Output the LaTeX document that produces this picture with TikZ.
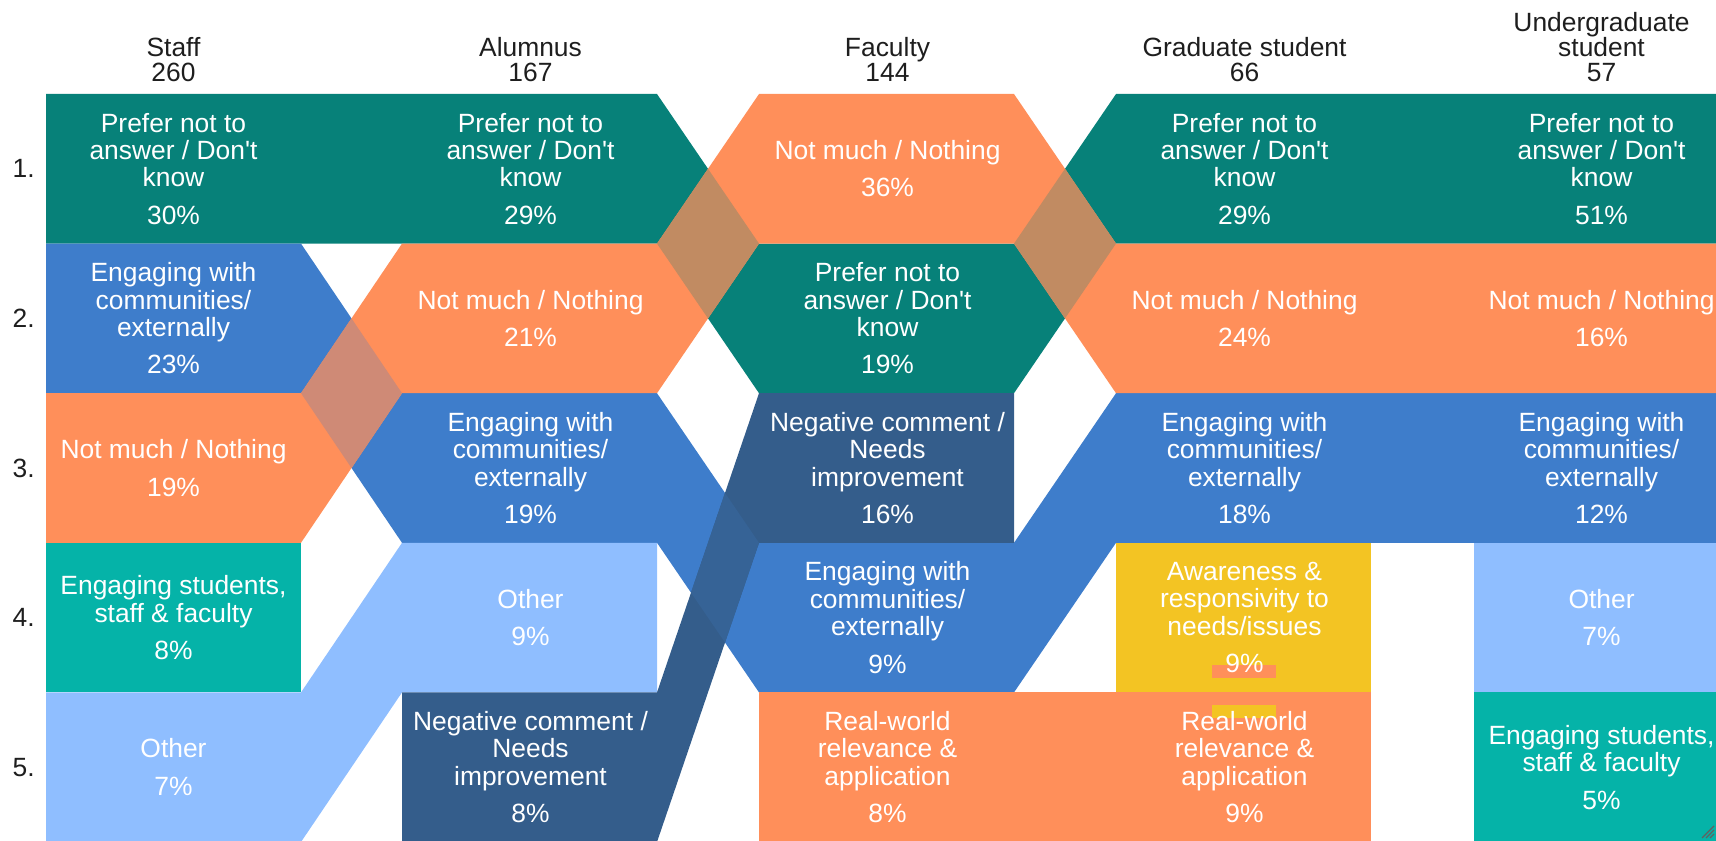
\documentclass[tikz,border=0pt]{standalone}
\usepackage{fontspec}
\setmainfont{Liberation Sans}
\usepackage{tikz}
\usepackage{xcolor}
\usetikzlibrary{calc}
\definecolor{preferTeal}{RGB}{7,129,121}
\definecolor{nothingOrange}{RGB}{255,143,90}
\definecolor{engageBlue}{RGB}{62,125,203}
\definecolor{otherBlue}{RGB}{143,190,255}
\definecolor{negativeNavy}{RGB}{52,93,139}
\definecolor{studentsTeal}{RGB}{5,179,168}
\definecolor{awareYellow}{RGB}{243,196,35}
\definecolor{headGray}{RGB}{30,30,30}

\begin{document}
\begin{tikzpicture}[x=0.5pt, y=-0.5pt,
    boxtext/.style={text=white, align=center, inner sep=0pt, font=\fontsize{13.2}{13.7}\selectfont},
    headtext/.style={text=headGray, align=center, anchor=south, inner sep=0pt, font=\fontsize{13.2}{12.5}\selectfont},
    ranktext/.style={text=headGray, anchor=east, inner sep=0pt, font=\fontsize{13.2}{13.2}\selectfont}]
            \useasboundingbox (0,0) rectangle (1716,840);
            \clip (0,0) rectangle (1716,840);

            % Ribbons
            \fill[preferTeal] (46,94) -- (657,94) -- (759,243.6) -- (1014,243.6) -- (1116,94) -- (1729,94) -- (1729,243.6) -- (1116,243.6) -- (1014,393.2) -- (759,393.2) -- (657,243.6) -- (46,243.6) -- cycle;
            \fill[engageBlue] (46,243.6) -- (301,243.6) -- (402,393.2) -- (657,393.2) -- (759,542.8) -- (1014,542.8) -- (1116,393.2) -- (1729,393.2) -- (1729,542.8) -- (1116,542.8) -- (1014,692.4) -- (759,692.4) -- (657,542.8) -- (402,542.8) -- (301,393.2) -- (46,393.2) -- cycle;
            \fill[nothingOrange] (46,393.2) -- (301,393.2) -- (402,243.6) -- (657,243.6) -- (759,94) -- (1014,94) -- (1116,243.6) -- (1729,243.6) -- (1729,393.2) -- (1116,393.2) -- (1014,243.6) -- (759,243.6) -- (657,393.2) -- (402,393.2) -- (301,542.8) -- (46,542.8) -- cycle;
            \fill[otherBlue] (46,692.4) -- (301,692.4) -- (402,542.8) -- (657,542.8) -- (657,692.4) -- (402,692.4) -- (301,842) -- (46,842) -- cycle;
            \fill[negativeNavy] (402,692.4) -- (657,692.4) -- (759,393.2) -- (1014,393.2) -- (1014,542.8) -- (759,542.8) -- (657,842) -- (402,842) -- cycle;

            % Crossings
            \fill[nothingOrange!75!engageBlue] (301,393.2) -- (351.5,318.4) -- (402,393.2) -- (351.5,468) -- cycle;
            \fill[nothingOrange!75!preferTeal] (657,243.6) -- (708,168.8) -- (759,243.6) -- (708,318.4) -- cycle;
            \fill[nothingOrange!75!preferTeal] (1014,243.6) -- (1065,168.8) -- (1116,243.6) -- (1065,318.4) -- cycle;
            \fill[negativeNavy!82!engageBlue] (691,592.7) -- (725,492.9) -- (759,542.8) -- (725,642.5) -- cycle;

            % Single blocks
            \fill[studentsTeal] (46,542.8) rectangle (301,692.4);
            \fill[studentsTeal] (1474,692.4) rectangle (1729,842);
            \fill[nothingOrange] (759,692.4) rectangle (1371,842);
            \fill[awareYellow] (1116,542.8) rectangle (1371,692.4);
            \fill[otherBlue] (1474,542.8) rectangle (1729,692.4);

            % Tie marks
            \fill[nothingOrange] (1212,665) rectangle (1276,678);
            \fill[awareYellow] (1212,705) rectangle (1276,718);

            % Grip
            \foreach \d in {0,4,8} {
                \draw[headGray!70, line width=0.6pt] (1714,826+\d) -- (1702+\d,838);
            }

            % Headers
            \node[headtext] (h-staff) at (173.5,82) {Staff\\260};
            \node[headtext] (h-alum) at (530.5,82) {Alumnus\\167};
            \node[headtext] (h-fac) at (887.5,82) {Faculty\\144};
            \node[headtext] (h-grad) at (1244.5,82) {Graduate student\\66};
            \node[headtext] (h-under) at (1601.5,82) {Undergraduate\\student\\57};

            % Ranks
            \node[ranktext] (r1) at (35,168.8) {1.};
            \node[ranktext] (r2) at (35,318.4) {2.};
            \node[ranktext] (r3) at (35,468) {3.};
            \node[ranktext] (r4) at (35,617.6) {4.};
            \node[ranktext] (r5) at (35,767.2) {5.};

            % Staff
            \node[boxtext] (staff-1) at (173.5,168.8) {Prefer not to\\answer / Don\textquotesingle t\\know\\[5pt]30\%};
            \node[boxtext] (staff-2) at (173.5,318.4) {Engaging with\\communities/\\externally\\[5pt]23\%};
            \node[boxtext] (staff-3) at (173.5,468) {Not much / Nothing\\[5pt]19\%};
            \node[boxtext] (staff-4) at (173.5,617.6) {Engaging students,\\staff \& faculty\\[5pt]8\%};
            \node[boxtext] (staff-5) at (173.5,767.2) {Other\\[5pt]7\%};

            % Alumnus
            \node[boxtext] (alum-1) at (530.5,168.8) {Prefer not to\\answer / Don\textquotesingle t\\know\\[5pt]29\%};
            \node[boxtext] (alum-2) at (530.5,318.4) {Not much / Nothing\\[5pt]21\%};
            \node[boxtext] (alum-3) at (530.5,468) {Engaging with\\communities/\\externally\\[5pt]19\%};
            \node[boxtext] (alum-4) at (530.5,617.6) {Other\\[5pt]9\%};
            \node[boxtext] (alum-5) at (530.5,767.2) {Negative comment /\\Needs\\improvement\\[5pt]8\%};

            % Faculty
            \node[boxtext] (fac-1) at (887.5,168.8) {Not much / Nothing\\[5pt]36\%};
            \node[boxtext] (fac-2) at (887.5,318.4) {Prefer not to\\answer / Don\textquotesingle t\\know\\[5pt]19\%};
            \node[boxtext] (fac-3) at (887.5,468) {Negative comment /\\Needs\\improvement\\[5pt]16\%};
            \node[boxtext] (fac-4) at (887.5,617.6) {Engaging with\\communities/\\externally\\[5pt]9\%};
            \node[boxtext] (fac-5) at (887.5,767.2) {Real-world\\relevance \&\\application\\[5pt]8\%};

            % Graduate student
            \node[boxtext] (grad-1) at (1244.5,168.8) {Prefer not to\\answer / Don\textquotesingle t\\know\\[5pt]29\%};
            \node[boxtext] (grad-2) at (1244.5,318.4) {Not much / Nothing\\[5pt]24\%};
            \node[boxtext] (grad-3) at (1244.5,468) {Engaging with\\communities/\\externally\\[5pt]18\%};
            \node[boxtext] (grad-4) at (1244.5,617.6) {Awareness \&\\responsivity to\\needs/issues\\[5pt]9\%};
            \node[boxtext] (grad-5) at (1244.5,767.2) {Real-world\\relevance \&\\application\\[5pt]9\%};

            % Undergraduate student
            \node[boxtext] (under-1) at (1601.5,168.8) {Prefer not to\\answer / Don\textquotesingle t\\know\\[5pt]51\%};
            \node[boxtext] (under-2) at (1601.5,318.4) {Not much / Nothing\\[5pt]16\%};
            \node[boxtext] (under-3) at (1601.5,468) {Engaging with\\communities/\\externally\\[5pt]12\%};
            \node[boxtext] (under-4) at (1601.5,617.6) {Other\\[5pt]7\%};
            \node[boxtext] (under-5) at (1601.5,767.2) {Engaging students,\\staff \& faculty\\[5pt]5\%};
        \end{tikzpicture}
\end{document}
